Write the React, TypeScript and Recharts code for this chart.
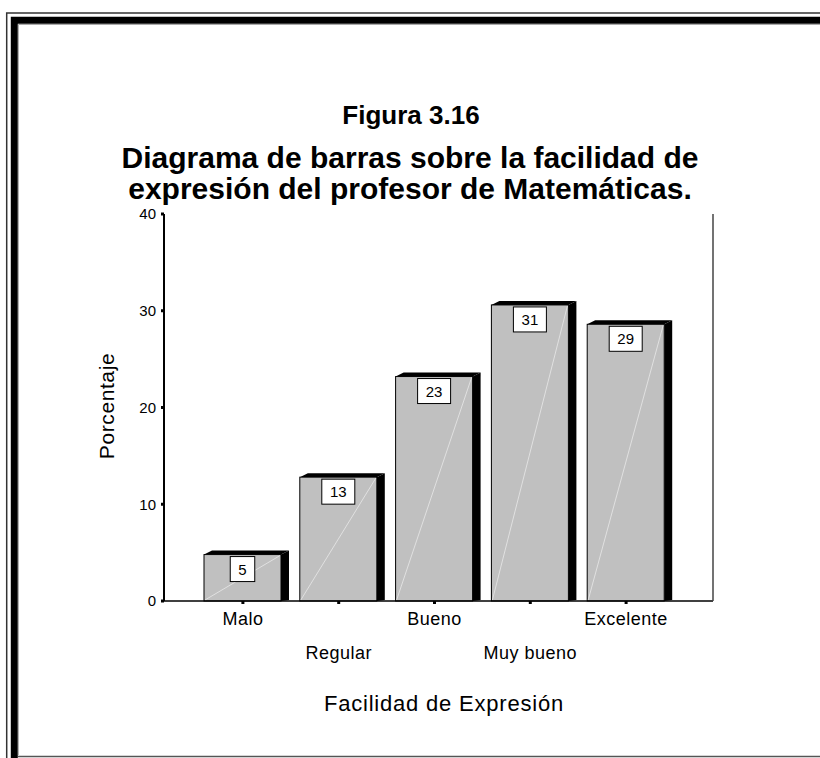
import { BarChart, Bar, XAxis, YAxis, LabelList } from 'recharts';

const categories = ['Malo', 'Regular', 'Bueno', 'Muy bueno', 'Excelente'];
const percentages = [4.8, 12.8, 23.2, 30.6, 28.6];
const yTicks = [0, 10, 20, 30, 40];

const titleLines = [
  'Diagrama de barras sobre la facilidad de',
  'expresión del profesor de Matemáticas.',
];

const data = categories.map((name, i) => ({ name, value: percentages[i] }));

const FONT = '"Liberation Sans", Arial, sans-serif';
const DEPTH_X = 8;
const DEPTH_Y = 4;

// front face + dark top and side faces, like the old SPSS 3D bars
const Bar3D = (props: any) => {
  const { x, y, width, height } = props;
  if (!height) return null;
  const r = x + width;
  const b = y + height;
  return (
    <g>
      <polygon
        points={`${r},${y} ${r + DEPTH_X},${y - DEPTH_Y} ${r + DEPTH_X},${b - 1} ${r},${b}`}
        fill="#000"
      />
      <polygon
        points={`${x},${y} ${x + DEPTH_X},${y - DEPTH_Y} ${r + DEPTH_X},${y - DEPTH_Y} ${r},${y}`}
        fill="#000"
      />
      <rect x={x} y={y} width={width} height={height} fill="#c0c0c0" stroke="#000" strokeWidth={1} />
      <line x1={x + 1} y1={b - 1} x2={r - 1} y2={y + 1} stroke="#e8e8e8" strokeWidth={0.8} />
    </g>
  );
};

const BoxLabel = (props: any) => {
  const { x, y, width, value } = props;
  const txt = String(Math.round(Number(value)));
  const w = txt.length * 8.5 + 16;
  const cx = Number(x) + Number(width) / 2;
  const top = Number(y) + 2;
  return (
    <g>
      <rect x={cx - w / 2} y={top} width={w} height={25} fill="#fff" stroke="#000" strokeWidth={1} />
      <text x={cx} y={top + 18} textAnchor="middle" fontSize={15} fontFamily={FONT} fill="#000">
        {txt}
      </text>
    </g>
  );
};

const CategoryTick = (props: any) => {
  const { x, y, payload, index } = props;
  const dy = index % 2 === 0 ? 19 : 53;
  return (
    <text
      x={x}
      y={y + dy}
      textAnchor="middle"
      fontSize={18}
      letterSpacing={0.5}
      fontFamily={FONT}
      fill="#000"
    >
      {payload.value}
    </text>
  );
};

export default function App() {
  return (
    <div style={{ position: 'absolute', left: 0, top: 0, width: 820, height: 758, background: '#fff' }}>
      <svg width={820} height={758} style={{ position: 'absolute', left: 0, top: 0 }}>
        {/* frame */}
        <path d="M6.7,758 L6.7,13 L820,13" fill="none" stroke="#333" strokeWidth={1.5} />
        <path d="M14.3,758 L14.3,20.3 L820,20.3" fill="none" stroke="#000" strokeWidth={7} />
        <path d="M18.4,755 L18.4,24.5 L820,24.5" fill="none" stroke="#aaa" strokeWidth={1} />
        <line x1={18} y1={756.5} x2={820} y2={756.5} stroke="#555" strokeWidth={1.5} />

        <text x={411} y={124} textAnchor="middle" fontSize={26} fontWeight="bold" fontFamily={FONT}>
          Figura 3.16
        </text>
        {titleLines.map((t, i) => (
          <text
            key={t}
            x={410}
            y={168 + i * 31}
            textAnchor="middle"
            fontSize={30}
            fontWeight="bold"
            fontFamily={FONT}
          >
            {t}
          </text>
        ))}
        <text
          x={444}
          y={711}
          textAnchor="middle"
          fontSize={22}
          letterSpacing={0.8}
          fontFamily={FONT}
        >
          Facilidad de Expresión
        </text>
        <text
          transform="translate(114,406) rotate(-90)"
          textAnchor="middle"
          fontSize={21}
          letterSpacing={0.6}
          fontFamily={FONT}
        >
          Porcentaje
        </text>
      </svg>
      <div style={{ position: 'absolute', left: 0, top: 0 }}>
        <BarChart
          width={820}
          height={758}
          data={data}
          margin={{ top: 214, right: 106, bottom: 97, left: 104 }}
        >
          <XAxis
            dataKey="name"
            height={60}
            padding={{ left: 31, right: 39 }}
            axisLine={{ stroke: '#000', strokeWidth: 1.5 }}
            tickLine={{ stroke: '#000', strokeWidth: 3 }}
            tickSize={3}
            tickMargin={2}
            interval={0}
            tick={<CategoryTick />}
          />
          <XAxis
            xAxisId="top"
            orientation="top"
            dataKey="name"
            height={0}
            tick={false}
            tickLine={false}
            axisLine={{ stroke: '#444', strokeWidth: 1.5 }}
          />
          <YAxis
            width={60}
            domain={[0, 40]}
            ticks={yTicks}
            axisLine={{ stroke: '#000', strokeWidth: 2 }}
            tickLine={{ stroke: '#000', strokeWidth: 3 }}
            tickSize={3}
            tickMargin={5}
            tick={{ fill: '#000', fontSize: 15, fontFamily: FONT }}
          />
          <YAxis
            yAxisId="right"
            orientation="right"
            width={1}
            domain={[0, 40]}
            tick={false}
            tickLine={false}
            axisLine={{ stroke: '#444', strokeWidth: 1.5 }}
          />
          <Bar dataKey="value" barSize={77} shape={<Bar3D />} isAnimationActive={false}>
            <LabelList dataKey="value" content={<BoxLabel />} />
          </Bar>
        </BarChart>
      </div>
    </div>
  );
}
